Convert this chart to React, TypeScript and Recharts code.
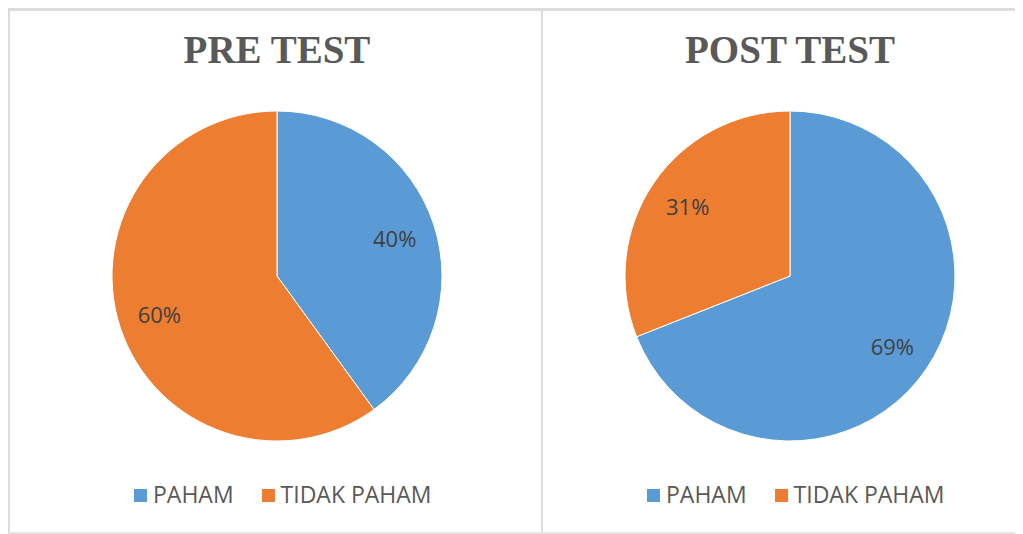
import React from "react";
import { PieChart, Pie, Cell, Legend } from "recharts";

const categories = ["PAHAM", "TIDAK PAHAM"];
const preValues = [40, 60];
const postValues = [69, 31];
const titles = ["PRE TEST", "POST TEST"];
const colors = ["#5B9BD5", "#ED7D31"];

const RADIAN = Math.PI / 180;

const renderLabel = (props: any) => {
  const { cx, cy, midAngle, outerRadius, value } = props;
  const r = outerRadius * 0.75;
  const x = cx + r * Math.cos(-midAngle * RADIAN);
  const y = cy + r * Math.sin(-midAngle * RADIAN);
  return (
    <text
      x={x}
      y={y}
      fill="#404040"
      textAnchor="middle"
      dominantBaseline="central"
      fontFamily="'Open Sans', sans-serif"
      fontSize={22}
    >
      {`${value}%`}
    </text>
  );
};

const LegendBox = () => (
  <div style={{ display: "flex", alignItems: "center", fontFamily: "'Open Sans', sans-serif", fontSize: 23, lineHeight: "30px", color: "#595959" }}>
    {categories.map((c, i) => (
      <div key={c} style={{ display: "flex", alignItems: "center", marginRight: 28 }}>
        <span style={{ width: 13, height: 13, background: colors[i], display: "inline-block", marginRight: 6, marginTop: 2 }} />
        <span>{c}</span>
      </div>
    ))}
  </div>
);

interface PanelProps {
  title: string;
  values: number[];
  width: number;
  cx: number;
  legendLeft: number;
}

const Panel: React.FC<PanelProps> = ({ title, values, width, cx, legendLeft }) => {
  const data = categories.map((name, i) => ({ name, value: values[i] }));
  return (
    <div style={{ position: "relative", width, height: 520 }}>
      <div
        style={{
          position: "absolute",
          left: cx - 150,
          width: 300,
          top: 20,
          textAlign: "center",
          fontFamily: "'Liberation Serif', 'Times New Roman', serif",
          fontWeight: "bold",
          fontSize: 39,
          lineHeight: "38px",
          color: "#595959",
        }}
      >
        {title}
      </div>
      <PieChart width={width} height={520} style={{ position: "absolute", left: 0, top: 0 }}>
        <Pie
          data={data}
          dataKey="value"
          nameKey="name"
          cx={cx - 5}
          cy={260}
          outerRadius={165}
          startAngle={90}
          endAngle={-270}
          stroke="#ffffff"
          strokeWidth={1}
          label={renderLabel}
          labelLine={false}
          isAnimationActive={false}
        >
          {data.map((d, i) => (
            <Cell key={d.name} fill={colors[i]} />
          ))}
        </Pie>
        <Legend content={<LegendBox />} wrapperStyle={{ left: legendLeft, top: 468, width: 400 }} />
      </PieChart>
    </div>
  );
};

export default function App() {
  return (
    <div
      style={{
        position: "relative",
        width: 1015,
        height: 526,
        boxSizing: "border-box",
        borderTop: "3px solid #dcdcdc",
        borderLeft: "2px solid #dcdcdc",
        borderBottom: "2px solid #e4e4e4",
        background: "#fff",
        display: "flex",
        overflow: "hidden",
      }}
    >
      <Panel title={titles[0]} values={preValues} width={531} cx={267} legendLeft={124} />
      <div style={{ width: 2, height: "100%", background: "#dcdcdc" }} />
      <Panel title={titles[1]} values={postValues} width={480} cx={247} legendLeft={104} />
    </div>
  );
}
